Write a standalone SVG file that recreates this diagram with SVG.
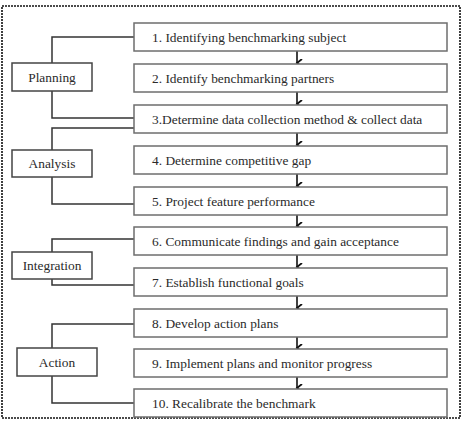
<svg xmlns="http://www.w3.org/2000/svg" width="463" height="422" viewBox="0 0 463 422">
<style>
.step{fill:#fff;stroke:#6e6e6e;stroke-width:1.5}
.phase{fill:#fff;stroke:#444;stroke-width:1.5}
.t{font-family:"Liberation Serif","Times New Roman",serif;font-size:13.4px;fill:#2a2a2a}
.c{text-anchor:middle}
.ln{fill:none;stroke:#333;stroke-width:1.5}
.ar{stroke:#111;stroke-width:1.6;fill:none}
</style>
<defs>
<marker id="ah" markerWidth="8" markerHeight="8" refX="4" refY="6" orient="auto" markerUnits="userSpaceOnUse" viewBox="0 0 8 8">
<path d="M0,1 L4,6 L8,1" fill="none" stroke="#111" stroke-width="1.8"/>
</marker>
</defs>
<rect x="2" y="6" width="458" height="412" fill="#fff" stroke="#111" stroke-width="1.6" stroke-dasharray="2,1"/>
<g id="connectors">
<path class="ln" d="M134,37 H52 V63 M52,91 V118 H134"/>
<path class="ln" d="M134,128 H52 V150 M52,177 V204 H134"/>
<path class="ln" d="M134,239 H52 V252 M52,279 V285 H134"/>
<path class="ln" d="M134,324 H52 V348 M52,376 V403 H134"/>
<g class="ar" marker-end="url(#ah)">
<path d="M297,51 V63"/>
<path d="M297,92 V104"/>
<path d="M297,133 V145"/>
<path d="M297,174 V186"/>
<path d="M297,215 V226"/>
<path d="M297,255 V267"/>
<path d="M297,296 V308"/>
<path d="M297,337 V348"/>
<path d="M297,377 V388"/>
</g>
</g>
<g id="s1"><rect class="step" x="134" y="23" width="313" height="28"/><text class="t" x="152" y="42">1. Identifying benchmarking subject</text></g>
<g id="s2"><rect class="step" x="134" y="64" width="313" height="28"/><text class="t" x="152" y="83">2. Identify benchmarking partners</text></g>
<g id="s3"><rect class="step" x="134" y="105" width="313" height="28"/><text class="t" x="152" y="124">3.Determine data collection method &amp; collect data</text></g>
<g id="s4"><rect class="step" x="134" y="146" width="313" height="28"/><text class="t" x="152" y="165">4. Determine competitive gap</text></g>
<g id="s5"><rect class="step" x="134" y="187" width="313" height="28"/><text class="t" x="152" y="206">5. Project feature performance</text></g>
<g id="s6"><rect class="step" x="134" y="227" width="313" height="28"/><text class="t" x="152" y="246">6. Communicate findings and gain acceptance</text></g>
<g id="s7"><rect class="step" x="134" y="268" width="313" height="28"/><text class="t" x="152" y="287">7. Establish functional goals</text></g>
<g id="s8"><rect class="step" x="134" y="309" width="313" height="28"/><text class="t" x="152" y="328">8. Develop action plans</text></g>
<g id="s9"><rect class="step" x="134" y="349" width="313" height="28"/><text class="t" x="152" y="368">9. Implement plans and monitor progress</text></g>
<g id="s10"><rect class="step" x="134" y="389" width="313" height="28"/><text class="t" x="152" y="408">10. Recalibrate the benchmark</text></g>
<g id="planning"><rect class="phase" x="12" y="63" width="80" height="28"/><text class="t c" x="52" y="82">Planning</text></g>
<g id="analysis"><rect class="phase" x="12" y="150" width="80" height="27"/><text class="t c" x="52" y="168">Analysis</text></g>
<g id="integration"><rect class="phase" x="12" y="252" width="80" height="27"/><text class="t c" x="52" y="270">Integration</text></g>
<g id="action"><rect class="phase" x="17" y="348" width="80" height="28"/><text class="t c" x="57" y="367">Action</text></g>
</svg>
